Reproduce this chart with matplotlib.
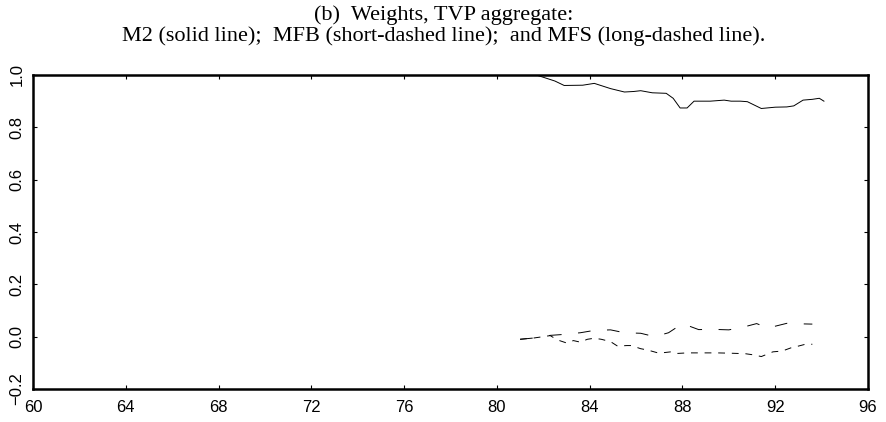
import numpy as np
import matplotlib.pyplot as plt

# M2 weight (solid line)
m2_year = [81.0, 81.7, 82.5, 82.9, 83.7, 84.2, 84.9, 85.5, 85.9, 86.2, 86.7, 87.3, 87.6,
           87.9, 88.2, 88.5, 89.2, 89.8, 90.1, 90.5, 90.8, 91.4, 92.0, 92.5, 92.8, 93.2,
           93.6, 93.9, 94.1]
m2_val = [1.0, 1.0, 0.977, 0.96, 0.961, 0.968, 0.948, 0.935, 0.937, 0.94, 0.932, 0.93, 0.911,
          0.874, 0.874, 0.90, 0.90, 0.904, 0.90, 0.90, 0.898, 0.872, 0.877, 0.878, 0.882, 0.904,
          0.907, 0.911, 0.90]

# MFB weight (short-dashed line)
mfb_year = [81.0, 81.6, 82.3, 82.6, 83.0, 83.3, 83.6, 83.9, 84.2, 84.5, 84.9, 85.2, 85.6,
            85.8, 86.2, 86.5, 86.9, 87.2, 87.5, 87.8, 88.2, 88.9, 89.5, 90.0, 90.7, 91.1,
            91.4, 91.9, 92.3, 92.7, 93.0, 93.3, 93.6]
mfb_val = [-0.01, -0.005, 0.004, -0.012, -0.024, -0.015, -0.021, -0.01, -0.006, -0.01, -0.019,
           -0.036, -0.034, -0.034, -0.046, -0.051, -0.061, -0.061, -0.058, -0.064, -0.062,
           -0.062, -0.062, -0.063, -0.065, -0.07, -0.076, -0.058, -0.055, -0.042, -0.036,
           -0.029, -0.029]

# MFS weight (long-dashed line)
mfs_year = [81.0, 81.6, 82.3, 82.8, 83.6, 84.2, 84.9, 85.5, 86.2, 86.8, 87.4, 88.0, 88.7,
            89.3, 90.0, 90.6, 91.2, 91.7, 92.0, 92.5, 93.1, 93.6]
mfs_val = [-0.01, -0.005, 0.005, 0.008, 0.015, 0.024, 0.026, 0.015, 0.013, 0.0, 0.015, 0.05,
           0.027, 0.028, 0.026, 0.036, 0.05, 0.032, 0.04, 0.051, 0.049, 0.048]

x_ticks = np.arange(60, 97, 4)
y_ticks = [-0.2, 0.0, 0.2, 0.4, 0.6, 0.8, 1.0]

fig = plt.figure(figsize=(8.87, 4.22), dpi=100)
ax = fig.add_axes([33 / 887, 1 - 389 / 422, (868 - 33) / 887, (389 - 75) / 422])

ax.plot(m2_year, m2_val, color='black', lw=0.7)
ax.plot(mfb_year, mfb_val, color='black', lw=0.7, dashes=(7, 7))
ax.plot(mfs_year, mfs_val, color='black', lw=0.7, dashes=(13, 17))

ax.set_xlim(60, 96)
ax.set_ylim(-0.2, 1.0)
ax.set_xticks(x_ticks)
ax.set_yticks(y_ticks)
ax.set_yticklabels(['%.1f' % v if v >= 0 else '\u22120.2' for v in y_ticks],
                   rotation=90, va='center')

tick_font = ['Liberation Sans', 'DejaVu Sans']
for lab in ax.get_xticklabels() + ax.get_yticklabels():
    lab.set_family(tick_font)
    lab.set_fontsize(12)
ax.tick_params(direction='in', length=3, width=0.8, top=True, right=True)
ax.tick_params(axis='x', pad=8)
ax.tick_params(axis='y', pad=6)
for s in ax.spines.values():
    s.set_linewidth(1.8)

title_font = ['Liberation Serif', 'DejaVu Serif']
fig.text(0.5, 1 - 15 / 422, '(b)  Weights, TVP aggregate:', ha='center', va='center',
         family=title_font, fontsize=16)
fig.text(0.5, 1 - 36 / 422,
         'M2 (solid line);  MFB (short-dashed line);  and MFS (long-dashed line).',
         ha='center', va='center', family=title_font, fontsize=16)

fig.savefig('out.png', dpi=100)
